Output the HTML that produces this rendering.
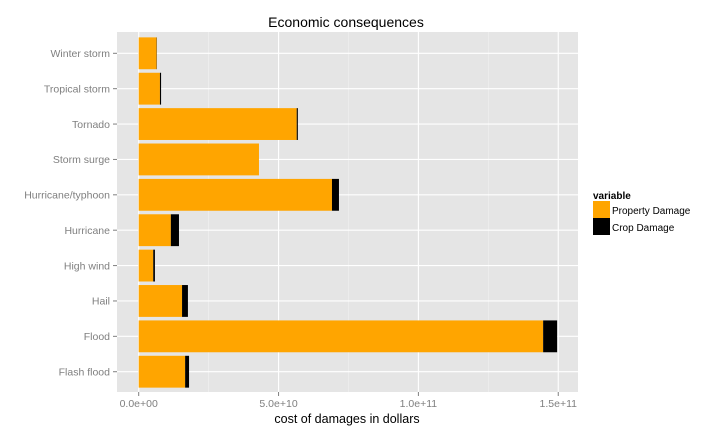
<!DOCTYPE html>
<html><head><meta charset="utf-8"><style>
body{margin:0;background:#fff;}
svg text{font-family:"Liberation Sans",Arial,sans-serif;}
</style></head><body>
<svg id="chart" width="720" height="432" xmlns="http://www.w3.org/2000/svg">
<rect x="117" y="32" width="461" height="360" fill="#e5e5e5"/>
<g id="grid"></g><g id="bars"></g><g id="axes"></g>
<text x="346" y="27" text-anchor="middle" font-size="14" fill="#000">Economic consequences</text>
<text x="347" y="423" text-anchor="middle" font-size="12.5" fill="#000">cost of damages in dollars</text>
<g>
<text x="593" y="199" font-size="10" font-weight="bold" fill="#000">variable</text>
<g><rect x="593" y="201" width="17" height="17" fill="#ffa500"/><text x="612" y="214" font-size="10" fill="#000">Property Damage</text></g>
<g><rect x="593" y="218" width="17" height="17" fill="#000"/><text x="612" y="231" font-size="10" fill="#000">Crop Damage</text></g>
</g>
</svg>
<script>
const categories=["Winter storm","Tropical storm","Tornado","Storm surge","Hurricane/typhoon","Hurricane","High wind","Hail","Flood","Flash flood"];
const propertyDamage=[0.64,0.76,5.65,4.30,6.91,1.15,0.52,1.55,14.46,1.66]; // units of 1e10
const cropDamage=[0.01,0.04,0.04,0.0,0.25,0.29,0.06,0.21,0.50,0.14];
const xTicks=[0,5,10,15];
const xTickLabels=["0.0e+00","5.0e+10","1.0e+11","1.5e+11"];
const xMinor=[2.5,7.5,12.5];
const NS="http://www.w3.org/2000/svg";
const x0=138.7, pxPer=27.97;
function xs(v){return x0+v*pxPer;}
const rowTop=53.3, rowStep=35.38;
function ys(i){return rowTop+i*rowStep;}
function mk(tag,attrs,parent){const e=document.createElementNS(NS,tag);for(const k in attrs)e.setAttribute(k,attrs[k]);parent.appendChild(e);return e;}
const grid=document.getElementById('grid'),bars=document.getElementById('bars'),axes=document.getElementById('axes');
xMinor.forEach(v=>{const l=mk('line',{x1:xs(v),x2:xs(v),y1:32,y2:392,stroke:'#f2f2f2','stroke-width':0.6},grid);

});
xTicks.forEach((v,i)=>{const l=mk('line',{x1:xs(v),x2:xs(v),y1:32,y2:392,stroke:'#fff','stroke-width':1.1},grid);


const t=mk('line',{x1:xs(v),x2:xs(v),y1:392,y2:396,stroke:'#7f7f7f','stroke-width':1},axes);


const tx=mk('text',{x:xs(v),y:407,'text-anchor':'middle','font-size':'10.5',fill:'#7f7f7f'},axes);tx.textContent=xTickLabels[i];

});
categories.forEach((c,i)=>{const y=ys(i);
const l=mk('line',{x1:117,x2:578,y1:y,y2:y,stroke:'#fff','stroke-width':1.1},grid);


const h=rowStep*0.9;
const b1=mk('rect',{x:xs(0),y:y-h/2,width:propertyDamage[i]*pxPer,height:h,fill:'#ffa500'},bars);


const b2=mk('rect',{x:xs(propertyDamage[i]),y:y-h/2,width:cropDamage[i]*pxPer,height:h,fill:'#000'},bars);


const t=mk('line',{x1:113,x2:117,y1:y,y2:y,stroke:'#7f7f7f','stroke-width':1},axes);


const tx=mk('text',{x:110,y:y+3.7,'text-anchor':'end','font-size':'10.5',fill:'#7f7f7f'},axes);tx.textContent=c;

});
</script>
</body></html>
